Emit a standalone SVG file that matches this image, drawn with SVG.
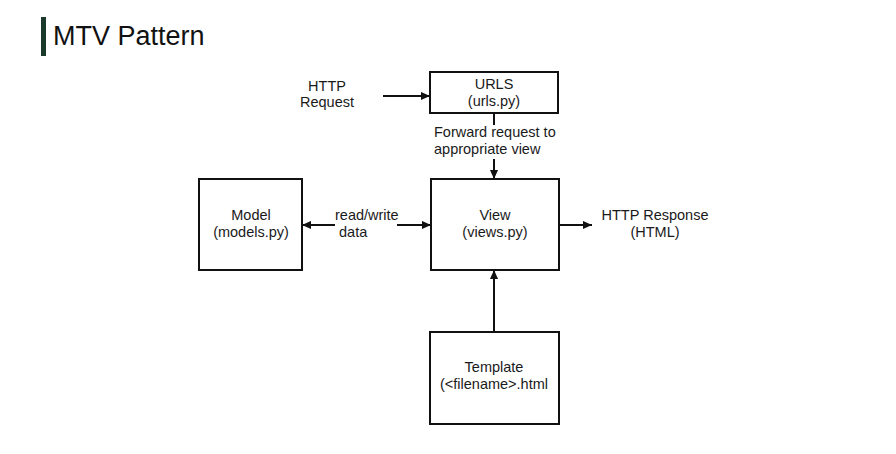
<svg xmlns="http://www.w3.org/2000/svg" width="896" height="454" viewBox="0 0 896 454">
<defs>
<style>
.box{fill:#fff;stroke:#111;stroke-width:2}
.t{font-family:"Liberation Sans",Arial,sans-serif;font-size:14.5px;fill:#1a1a1a}
.c{text-anchor:middle}
.ln{stroke:#111;stroke-width:2;fill:none}
</style>
<marker id="a" viewBox="0 0 10 10" refX="10" refY="5" markerWidth="10" markerHeight="9" orient="auto" markerUnits="userSpaceOnUse">
<path d="M0,0.5 L10,5 L0,9.5 z" fill="#111"/>
</marker>
</defs>
<rect width="896" height="454" fill="#fff"/>
<g id="title">
<rect x="41" y="17" width="5" height="39" fill="#1c3a2c"/>
<text x="53" y="45" font-family="Liberation Sans,Arial,sans-serif" font-size="27" fill="#111">MTV Pattern</text>
</g>
<g id="connectors">
<line class="ln" x1="383" y1="96" x2="430" y2="96" marker-end="url(#a)"/>
<line class="ln" x1="494" y1="113" x2="494" y2="125"/>
<line class="ln" x1="494" y1="159" x2="494" y2="179" marker-end="url(#a)"/>
<line class="ln" x1="335" y1="225" x2="302" y2="225" marker-end="url(#a)"/>
<line class="ln" x1="397" y1="225" x2="431" y2="225" marker-end="url(#a)"/>
<line class="ln" x1="559" y1="225" x2="592" y2="225" marker-end="url(#a)"/>
<line class="ln" x1="494" y1="332" x2="494" y2="270" marker-end="url(#a)"/>
<text class="t" x="434" y="137">Forward request to</text>
<text class="t" x="434" y="154">appropriate view</text>
<text class="t" x="335" y="220">read/write</text>
<text class="t" x="339" y="237">data</text>
</g>
<g id="http-request">
<text class="t c" x="327" y="91">HTTP</text>
<text class="t c" x="327" y="107">Request</text>
</g>
<g id="urls">
<rect class="box" x="430" y="72" width="128" height="41"/>
<text class="t c" x="494" y="89">URLS</text>
<text class="t c" x="494" y="106">(urls.py)</text>
</g>
<g id="model">
<rect class="box" x="199" y="179" width="103" height="91"/>
<text class="t c" x="251" y="220">Model</text>
<text class="t c" x="251" y="237">(models.py)</text>
</g>
<g id="view">
<rect class="box" x="431" y="179" width="128" height="91"/>
<text class="t c" x="495" y="220">View</text>
<text class="t c" x="495" y="237">(views.py)</text>
</g>
<g id="http-response">
<text class="t c" x="655" y="220">HTTP Response</text>
<text class="t c" x="655" y="237">(HTML)</text>
</g>
<g id="template">
<rect class="box" x="430" y="332" width="129" height="92"/>
<text class="t c" x="494" y="372">Template</text>
<text class="t c" x="494" y="389">(&lt;filename&gt;.html</text>
</g>
</svg>
